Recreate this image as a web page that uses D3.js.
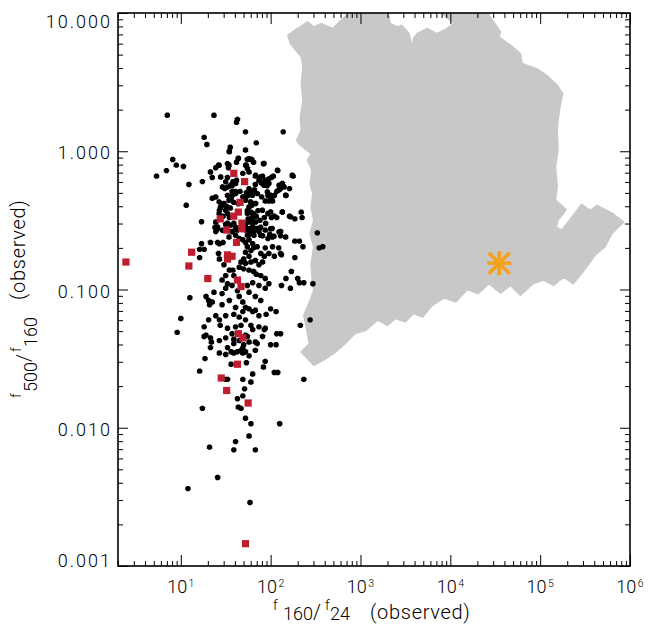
<!DOCTYPE html>
<html><head><meta charset="utf-8">
<script src="https://cdn.jsdelivr.net/npm/d3@7"></script>
<style>
html,body{margin:0;padding:0;background:#fff;}
svg{display:block;}
text{font-family:"Roboto","Liberation Sans",Arial,sans-serif;font-weight:300;fill:#000;}
</style></head><body>
<svg id="chart" width="648" height="625"></svg>
<script>
// ---- black points: f160/f24 and f500/f160 (observed) ----
const ratio160_24 = [
7.08,23.4,42.7,41.7,52.5,138,18.2,19.5,69.2,35.5,
34.7,52.5,8.13,8.91,10.7,6.92,5.37,12.3,11.5,17.0,
22.4,17.4,21.4,22.4,24.5,26.3,33.1,33.9,41.7,43.7,
55.0,60.3,64.6,53.7,83.2,33.1,49.0,57.5,120,178,
67.6,77.6,74.1,81.3,87.1,79.4,67.6,107,102,95.5,
38.0,41.7,37.2,33.1,30.9,91.2,138,129,123,117,
162,148,37.2,40.7,45.7,53.7,60.3,66.1,61.7,56.2,
79.4,93.3,102,110,87.1,95.5,105,33.1,36.3,38.9,
43.7,49.0,52.5,60.3,61.7,28.8,27.5,26.9,32.4,35.5,
55.0,60.3,64.6,72.4,69.2,63.1,56.2,75.9,85.1,63.1,
52.5,93.3,102,110,117,135,162,186,219,224,
33.1,34.7,33.1,29.5,31.6,24.0,25.7,24.5,38.9,40.7,
42.7,37.2,52.5,57.5,63.1,52.5,57.5,64.6,67.6,77.6,
74.1,81.3,87.1,100,97.7,93.3,105,129,129,331,
186,209,229,347,380,17.0,16.2,18.2,21.4,25.7,
26.9,29.5,44.7,49.0,52.5,57.5,63.1,55.0,60.3,52.5,
64.6,70.8,77.6,57.5,50.1,46.8,52.5,60.3,67.6,44.7,
50.1,57.5,64.6,74.1,81.3,85.1,95.5,110,129,123,
105,87.1,26.9,26.3,30.2,34.7,31.6,28.8,33.1,31.6,
28.8,34.7,38.0,38.9,37.2,42.7,44.7,49.0,52.5,57.5,
63.1,67.6,74.1,49.0,44.7,52.5,60.3,69.2,77.6,87.1,
95.5,87.1,74.1,63.1,55.0,57.5,67.6,77.6,19.1,20.4,
23.4,22.4,12.6,10.0,9.12,18.2,19.1,20.4,24.5,26.9,
27.5,31.6,37.2,52.5,63.1,74.1,85.1,117,129,148,
170,200,209,234,295,132,166,275,214,100,
115,16.2,186,132,18.2,21.4,21.9,21.4,
38.9,44.7,50.1,55.0,67.6,70.8,81.3,100,115,
33.1,31.6,26.9,38.9,42.7,46.8,49.0,52.5,57.5,67.6,
18.6,36.3,53.7,87.1,83.2,16.2,63.1,120,31.6,49.0,
60.3,234,51.3,49.0,42.7,17.4,43.7,46.8,52.5,60.3,
126,57.5,40.7,20.9,38.9,67.6,25.7,12.0,58.9,
20.9,28.8,40.7,89.1,31.6,38.9,33.1,40.7,46.8,87.1,26.9,38.9,49.0,57.5,36.3,110,33.1,
34.7,43.7,57.4,61.5,84.3,119,174,26.7,34.4,52.7,
55.1,68.1,77.4,88.0,95.7,84.3,124,135,141,147,
27.8,31.6,29.1,35.9,40.8,57.4,65.2,71.1,62.7,91.9,
100,24.5,26.7,30.3,34.4,37.5,40.8,52.7,59.9,68.1,
57.4,80.9,100,135,167,27.8,31.6,26.7,55.1,62.7,
57.4,68.1,52.7,59.9,71.1,65.2,88.0,104,124,24.5,
25.6,29.1,35.9,37.5,34.4,40.8,55.1,77.4,109,147
];
const ratio500_160 = [
1.82,1.82,1.70,1.62,1.38,1.38,1.26,1.12,1.15,1.07,
1.00,1.02,0.871,0.794,0.776,0.724,0.661,0.575,0.407,0.309,
0.457,0.603,0.708,0.646,0.759,0.794,0.813,0.759,0.832,0.891,
0.871,0.871,0.832,0.794,0.813,0.646,0.692,0.708,0.724,0.661,
0.661,0.646,0.617,0.661,0.603,0.589,0.575,0.661,0.646,0.631,
0.603,0.617,0.562,0.550,0.537,0.562,0.562,0.537,0.525,0.513,
0.537,0.479,0.513,0.513,0.513,0.501,0.513,0.525,0.490,0.479,
0.468,0.479,0.457,0.479,0.437,0.437,0.437,0.479,0.457,0.427,
0.417,0.468,0.468,0.427,0.407,0.407,0.389,0.372,0.398,0.389,
0.372,0.363,0.355,0.372,0.339,0.331,0.324,0.316,0.331,0.309,
0.302,0.355,0.331,0.339,0.331,0.363,0.339,0.324,0.363,0.331,
0.355,0.331,0.302,0.339,0.295,0.282,0.275,0.263,0.302,0.282,
0.269,0.263,0.282,0.275,0.288,0.269,0.251,0.263,0.275,0.282,
0.263,0.245,0.269,0.275,0.251,0.234,0.240,0.263,0.245,0.257,
0.224,0.224,0.204,0.200,0.204,0.214,0.195,0.195,0.219,0.219,
0.214,0.219,0.234,0.229,0.219,0.229,0.214,0.204,0.191,0.186,
0.200,0.204,0.182,0.174,0.166,0.158,0.155,0.158,0.162,0.145,
0.141,0.138,0.135,0.151,0.158,0.174,0.182,0.174,0.182,0.200,
0.204,0.200,0.166,0.182,0.151,0.138,0.126,0.117,0.110,0.102,
0.0933,0.0832,0.138,0.126,0.107,0.0977,0.0891,0.0813,0.0741,0.0724,
0.0692,0.0708,0.0646,0.0692,0.0631,0.0603,0.0550,0.129,0.126,0.120,
0.110,0.102,0.107,0.112,0.107,0.0955,0.0891,0.0832,0.0891,0.0832,
0.0955,0.0813,0.0871,0.0617,0.0490,0.0537,0.0468,0.0603,0.0646,0.0603,
0.0550,0.0447,0.0479,0.0468,0.0513,0.0537,0.0513,0.0479,0.0479,0.120,
0.135,0.120,0.112,0.112,0.110,0.107,0.102,0.0603,0.0550,0.0724,
0.0692,0.170,0.170,0.178,0.0457,0.0447,0.0417,0.0380,
0.0437,0.0427,0.0398,0.0457,0.0417,0.0407,0.0457,0.0398,0.0398,
0.0380,0.0339,0.0347,0.0347,0.0355,0.0363,0.0347,0.0355,0.0331,0.0363,
0.0316,0.0288,0.0295,0.0302,0.0275,0.0257,0.0245,0.0251,0.0224,0.0224,
0.0214,0.0224,0.0191,0.0170,0.0162,0.0138,0.0141,0.0138,0.0117,0.0107,
0.0107,0.00871,0.00794,0.00724,0.00692,0.00692,0.00437,0.00363,0.00288,
0.0776,0.0776,0.0741,0.0661,0.0646,0.0661,0.0525,0.0537,0.0550,0.0525,0.0427,0.0407,0.0380,0.0417,0.0355,0.0251,0.0224,
0.989,0.885,0.885,0.871,0.815,0.729,0.670,0.792,0.792,0.792,
0.750,0.670,0.652,0.617,0.584,0.568,0.568,0.584,0.552,0.481,
0.652,0.600,0.552,0.568,0.584,0.537,0.522,0.494,0.481,0.508,
0.481,0.467,0.430,0.419,0.442,0.481,0.494,0.442,0.430,0.419,
0.395,0.374,0.364,0.364,0.335,0.395,0.374,0.354,0.354,0.335,
0.308,0.308,0.283,0.268,0.276,0.247,0.300,0.276,0.261,0.308,
0.283,0.268,0.292,0.261,0.240,0.247,0.247,0.247,0.243,0.240
];
// ---- red squares ----
const redRatio160_24 = [38.9,51.3,45.7,43.7,38.9,27.5,47.9,47.9,32.4,41.7,13.2,33.1,37.2,33.1,2.45,12.3,20.0,42.7,46.8,43.7,49.0,42.7,28.2,32.4,56.2,52.5];
const redRatio500_160 = [0.692,0.603,0.427,0.363,0.339,0.324,0.302,0.275,0.269,0.219,0.186,0.178,0.174,0.166,0.158,0.148,0.120,0.117,0.105,0.0479,0.0447,0.0288,0.0229,0.0186,0.0151,0.00145];
// ---- grey region outline ----
const regionRatio160_24 = [155,257,302,363,490,741,2040,2140,2570,2880,3470,3720,3890,4270,5500,7080,8510,11000,8510,8130,26900,26900,36300,34700,46800,60300,63100,70800,91200,117000,155000,178000,166000,158000,155000,158000,148000,155000,148000,195000,158000,151000,174000,234000,288000,363000,427000,646000,851000,631000,525000,407000,331000,234000,182000,141000,110000,85100,60300,46800,36300,26900,20400,15500,11500,8510,6310,4900,3890,3160,2450,2000,1550,1150,871,676,501,389,302,219,269,251,234,275,302,288,282,302,275,302,282,295,275,288,257,282,204,195,219,214,229,219,229,219,166];
const regionRatio500_160 = [6.92,8.61,7.94,8.39,7.73,10,10,8.39,7.93,8.15,7.10,5.68,6.53,7.10,7.73,7.10,7.50,8.39,9.64,10,10,9.64,7.29,6.71,5.85,5.09,4.31,4.19,3.96,3.55,3.00,2.61,2.09,1.67,1.34,1.02,0.769,0.552,0.443,0.378,0.317,0.283,0.269,0.344,0.414,0.374,0.406,0.354,0.308,0.254,0.203,0.177,0.146,0.110,0.123,0.107,0.117,0.111,0.0908,0.107,0.0944,0.110,0.0935,0.100,0.0813,0.0869,0.0769,0.0632,0.0670,0.0582,0.0617,0.0551,0.0600,0.0507,0.0480,0.0406,0.0344,0.0308,0.0283,0.0353,0.0406,0.0522,0.0652,0.0836,0.0989,0.123,0.154,0.203,0.254,0.317,0.395,0.494,0.583,0.730,0.861,0.962,1.14,1.20,1.42,1.77,2.34,3.09,4.07,4.81,6.01];
// ---- orange star ----
const starRatio160_24 = [35000];
const starRatio500_160 = [0.155];
// ---- ticks ----
const xTickExponents = [1,2,3,4,5,6];
const yTickValues = [0.001,0.01,0.1,1,10];
const yTickLabels = ["0.001","0.010","0.100","1.000","10.000"];

const svg = d3.select("#chart");
const L = 118, R = 630, T = 13, B = 566;
const x = d3.scaleLog().domain([2, 1e6]).range([L, R]);
const y = d3.scaleLog().domain([0.001, 10]).range([B, T]);

svg.append("defs").append("clipPath").attr("id","plotclip")
  .append("rect").attr("x",L).attr("y",T).attr("width",R-L).attr("height",B-T);
const plot = svg.append("g").attr("clip-path","url(#plotclip)");

// grey region
const region = d3.zip(regionRatio160_24, regionRatio500_160);
plot.append("path").datum(region)
  .attr("d", d3.line().x(d=>x(d[0])).y(d=>y(d[1])).curve(d3.curveLinearClosed))
  .attr("fill","#c8c8c8").attr("stroke","#c8c8c8").attr("stroke-width",1.5).attr("stroke-linejoin","miter");

// black points (small plus-like octagons)
const n = Math.min(ratio160_24.length, ratio500_160.length);
const pts = d3.range(n).map(i=>[ratio160_24[i], ratio500_160[i]]);
const mark = "M-1.2,-2.7L1.2,-2.7L2.7,-1.2L2.7,1.2L1.2,2.7L-1.2,2.7L-2.7,1.2L-2.7,-1.2Z";
plot.append("g").selectAll("path").data(pts).join("path")
  .attr("transform",d=>`translate(${x(d[0])},${y(d[1])})`).attr("d",mark).attr("fill","#000");

// red squares
const reds = d3.zip(redRatio160_24, redRatio500_160);
plot.append("g").selectAll("rect").data(reds).join("rect")
  .attr("x",d=>x(d[0])-3.6).attr("y",d=>y(d[1])-3.6).attr("width",7.2).attr("height",7.2)
  .attr("fill","#be1e2d");

// star
const stars = d3.zip(starRatio160_24, starRatio500_160);
stars.forEach(s=>{
  const cx = x(s[0]), cy = y(s[1]);
  const g = plot.append("g").attr("stroke","#f5a01e").attr("stroke-width",3.6);
  [[-12,0,12,0],[0,-12,0,12],[-10.5,-10.5,10.5,10.5],[-10.5,10.5,10.5,-10.5]].forEach(a=>{
    g.append("line").attr("x1",cx+a[0]).attr("y1",cy+a[1]).attr("x2",cx+a[2]).attr("y2",cy+a[3]);
  });
});

// axes
const majorX = xTickExponents.map(e=>Math.pow(10,e));
const isDecade = v => Math.abs(Math.log10(v)-Math.round(Math.log10(v)))<1e-6;
const minorX = x.ticks().filter(v=>!isDecade(v));
const minorY = y.ticks().filter(v=>!isDecade(v));
function styleAxis(g){ g.select(".domain").remove(); g.selectAll("line").attr("stroke","#000").attr("stroke-width",1); }

svg.append("g").attr("transform",`translate(0,${B})`).call(d3.axisBottom(x).tickValues(majorX).tickSize(-11).tickFormat("")).call(styleAxis);
svg.append("g").attr("transform",`translate(0,${B})`).call(d3.axisBottom(x).tickValues(minorX).tickSize(-5).tickFormat("")).call(styleAxis);
svg.append("g").attr("transform",`translate(0,${T})`).call(d3.axisTop(x).tickValues(majorX).tickSize(-11).tickFormat("")).call(styleAxis);
svg.append("g").attr("transform",`translate(0,${T})`).call(d3.axisTop(x).tickValues(minorX).tickSize(-5).tickFormat("")).call(styleAxis);
svg.append("g").attr("transform",`translate(${R},0)`).call(d3.axisRight(y).tickValues(yTickValues).tickSize(-10).tickFormat("")).call(styleAxis);
svg.append("g").attr("transform",`translate(${R},0)`).call(d3.axisRight(y).tickValues(minorY).tickSize(-5).tickFormat("")).call(styleAxis);
svg.append("g").attr("transform",`translate(${L},0)`).call(d3.axisLeft(y).tickValues(minorY).tickSize(-5).tickFormat("")).call(styleAxis);
const yAx = svg.append("g").attr("transform",`translate(${L},0)`)
  .call(d3.axisLeft(y).tickValues(yTickValues).tickSize(-10).tickPadding(6).tickFormat((d,i)=>yTickLabels[i]))
  .call(styleAxis);
yAx.selectAll("text")
  .attr("font-family",null)
  .attr("font-size",18).attr("letter-spacing","2px")
  .attr("dy", d => d===10 ? "14px" : (d===0.001 ? "0.5px" : "7.6px"));

// x tick labels with exponents
const xl = svg.append("g");
majorX.forEach((v,i)=>{
  const t = xl.append("text").attr("x",x(v)).attr("y",593).attr("text-anchor","middle");
  t.append("tspan").attr("font-size",18).text("10");
  t.append("tspan").attr("font-size",10.5).attr("dx",1.5).attr("dy",-6).text(String(xTickExponents[i]));
});

// frame
svg.append("rect").attr("x",L).attr("y",T).attr("width",R-L).attr("height",B-T)
  .attr("fill","none").attr("stroke","#000").attr("stroke-width",1.6);

// x title
const xt = svg.append("text");
xt.append("tspan").attr("x",273).attr("y",610).attr("font-size",14).text("f");
xt.append("tspan").attr("x",283).attr("y",620).attr("font-size",18).text("160");
xt.append("tspan").attr("x",313).attr("y",619).attr("font-size",20).text("/");
xt.append("tspan").attr("x",325).attr("y",610).attr("font-size",14).text("f");
xt.append("tspan").attr("x",330).attr("y",620).attr("font-size",18).text("24");
xt.append("tspan").attr("x",370).attr("y",619).attr("font-size",20).attr("letter-spacing","0.7px").text("(observed)");

// y title (rotated)
const yt = svg.append("text").attr("transform","rotate(-90)");
yt.append("tspan").attr("x",-398).attr("y",21).attr("font-size",14).text("f");
yt.append("tspan").attr("x",-392).attr("y",37).attr("font-size",18).text("500");
yt.append("tspan").attr("x",-362).attr("y",31).attr("font-size",20).text("/");
yt.append("tspan").attr("x",-352).attr("y",21).attr("font-size",14).text("f");
yt.append("tspan").attr("x",-347).attr("y",37).attr("font-size",18).text("160");
yt.append("tspan").attr("x",-300).attr("y",25).attr("font-size",20).attr("letter-spacing","0.7px").text("(observed)");
</script>
</body></html>
